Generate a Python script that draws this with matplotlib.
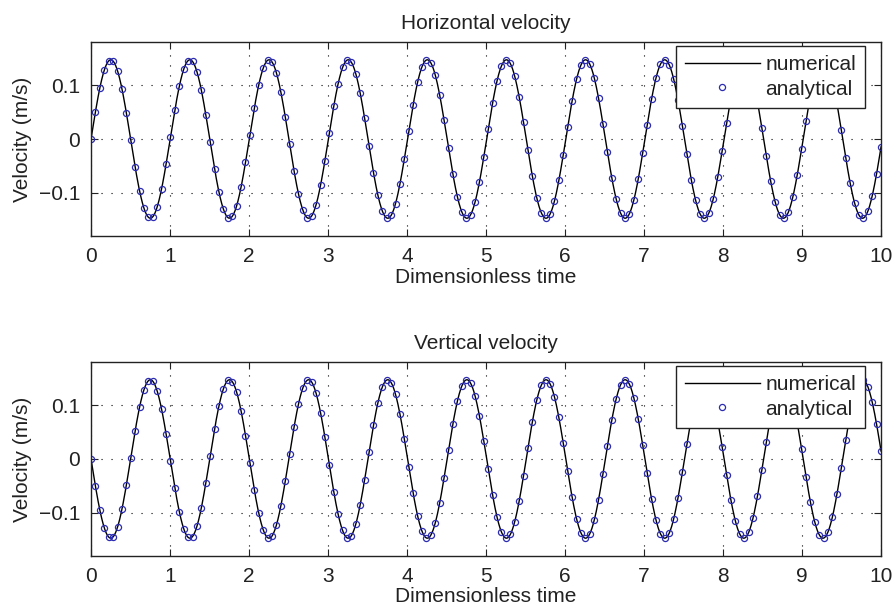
import matplotlib

matplotlib.use("Agg")
import matplotlib.pyplot as plt
import numpy as np

# values
amplitude = 0.147          # m/s, peak velocity
period = 1.0016            # dimensionless time per oscillation
t_end = 10.0
n_marker_steps = 179       # spacing of the analytical samples
n_line_steps = 2000
panel_titles = ["Horizontal velocity", "Vertical velocity"]
panel_signs = [1.0, -1.0]  # horizontal ~ +sin, vertical ~ -sin
x_ticks = [0, 1, 2, 3, 4, 5, 6, 7, 8, 9, 10]
y_ticks = [-0.1, 0.0, 0.1]
y_tick_labels = ["\u22120.1", "0", "0.1"]

plt.rcParams["font.family"] = ["Liberation Sans", "DejaVu Sans"]
fs = 15

t_line = np.linspace(0, t_end, n_line_steps + 1)
t_mark = np.linspace(0, t_end, n_marker_steps + 1)

fig = plt.figure(figsize=(8.95, 6.14), dpi=100)
axes = [fig.add_axes([0.1017, 0.6156, 0.8827, 0.316]),
        fig.add_axes([0.1017, 0.0945, 0.8827, 0.316])]

marker_color = "#2b2bb0"
for ax, title, sign in zip(axes, panel_titles, panel_signs):
    v_line = sign * amplitude * np.sin(2 * np.pi * t_line / period)
    v_mark = sign * amplitude * np.sin(2 * np.pi * t_mark / period)
    ax.plot(t_line, v_line, color="black", lw=1.0, label="numerical")
    ax.plot(t_mark, v_mark, ls="none", marker="o", ms=4.4, mfc="none",
            mec=marker_color, mew=0.9, label="analytical")

    ax.set_xlim(0, t_end)
    ax.set_ylim(-0.18, 0.18)
    ax.set_xticks(x_ticks)
    ax.set_yticks(y_ticks)
    ax.set_yticklabels(y_tick_labels)
    ax.tick_params(direction="in", top=True, right=True, length=5, width=0.8,
                   labelsize=fs, pad=8, colors="#222222")
    ax.grid(True, color="black", ls=(0, (1, 8)), lw=0.8)
    for spine in ax.spines.values():
        spine.set_linewidth(1.0)
        spine.set_color("#222222")

    ax.set_title(title, fontsize=fs, pad=9, color="#222222")
    ax.set_xlabel("Dimensionless time", fontsize=fs, labelpad=1, color="#222222")
    ax.set_ylabel("Velocity (m/s)", fontsize=fs, labelpad=5, color="#222222")

    leg = ax.legend(loc="upper right", bbox_to_anchor=(0.980, 0.979),
                    borderaxespad=0, fancybox=False, framealpha=1,
                    edgecolor="#222222", handlelength=3.6, handletextpad=0.25,
                    labelspacing=0.25, borderpad=0.45, fontsize=fs)
    leg.get_frame().set_linewidth(1.0)
    for txt in leg.get_texts():
        txt.set_color("#222222")

fig.savefig("out.png", dpi=100)
